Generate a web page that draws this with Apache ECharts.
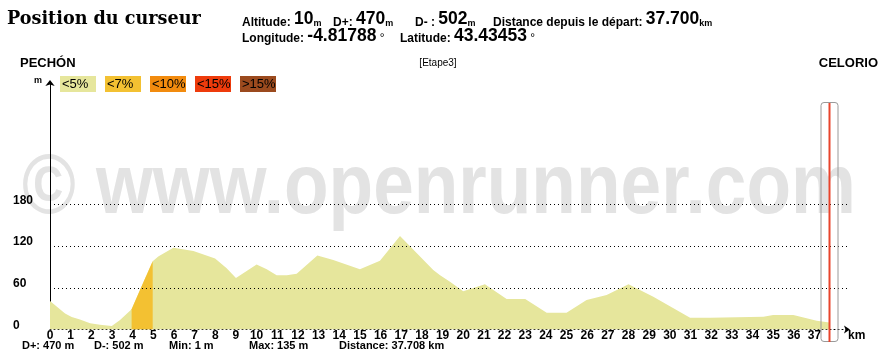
<!DOCTYPE html>
<html><head><meta charset="utf-8">
<script src="https://cdn.jsdelivr.net/npm/echarts@6/dist/echarts.min.js"></script>
<style>html,body{margin:0;padding:0;background:#fff}#c{width:890px;height:361px}</style>
</head><body><div id="c"></div>
<script>
// ---------- data ----------
const profileKm  = [0, 0.73, 1.05, 1.45, 1.94, 2.42, 2.99, 3.39, 3.95, 4.36, 4.97, 5.24, 5.97, 6.94, 7.99, 8.55, 9.0, 10.0, 10.49, 10.97, 11.46, 11.94, 12.94, 13.71, 15.0, 15.97, 16.94, 18.55, 18.88, 19.36, 20.0, 21.05, 22.1, 23.0, 24.04, 25.0, 25.97, 26.94, 28.0, 29.2, 30.98, 31.95, 32.03, 34.53, 35.0, 35.98, 37.11, 37.72];
const profileAlt = [41, 23, 18, 14.5, 9, 7, 5, 13.5, 29, 57, 98, 105, 117.5, 113, 102, 88, 74, 93.5, 86.5, 78, 78, 80, 106.5, 100, 86.5, 99, 134.5, 85.5, 78, 68.6, 55, 65, 43.7, 43.7, 24, 24, 42.3, 49.5, 65, 47, 17, 17, 18.5, 18.5, 20.7, 20.7, 12.5, 10];
const steepSegmentKm = [3.95, 4.97];          // segment shaded as "<7%"
const xTickLabels = Array.from({length: 38}, (_, i) => i); // 0..37
const yTickLabels = [0, 60, 120, 180];
const slopeLabels = ['<5%', '<7%', '<10%', '<15%', '>15%'];
const slopeColors = ['#e6e69c', '#f3c132', '#f28b0e', '#ee3b0c', '#9b4a1e'];
const startName = 'PECHÓN';
const endName = 'CELORIO';
const stageName = '[Etape3]';
const cursorKm = 37.7;
const headerLine1 = [['Altitude:', '10', 'm'], ['D+:', '470', 'm'], ['D- :', '502', 'm'], ['Distance depuis le départ:', '37.700', 'km']];
const headerLine2 = [['Longitude:', '-4.81788', '°'], ['Latitude:', '43.43453', '°']];
const footerStats = ['D+: 470 m', 'D-: 502 m', 'Min: 1 m', 'Max: 135 m', 'Distance: 37.708 km'];
const titleText = 'Position du curseur';
const watermarkText = '© www.openrunner.com';

// ---------- build ----------
const SANS = '"Liberation Sans", Arial, sans-serif';
const profile = profileKm.map((k, i) => [k, profileAlt[i]]);
const steep = profile.filter(p => p[0] >= steepSegmentKm[0] && p[0] <= steepSegmentKm[1]);

const header1X = [242, 333, 415, 493];
const header2X = [242, 400];
const footerX = [22, 94, 169, 249, 339];
const legendX = [60, 105, 150, 195, 240];

function headerItem(g, x, y) {
  const deg = g[2] === '°';
  return {
    type: 'text', x: x, y: y, z: 10,
    style: {
      text: '{l|' + g[0] + '} {v|' + g[1] + '}' + (deg ? ' {d|' + g[2] + '}' : '{u|' + g[2] + '}'),
      font: 'bold 12px ' + SANS, fill: '#000', verticalAlign: 'bottom',
      rich: {
        l: {font: 'bold 12px ' + SANS, fill: '#000', verticalAlign: 'bottom'},
        v: {font: 'bold 17.5px ' + SANS, fill: '#000', verticalAlign: 'bottom'},
        u: {font: 'bold 9px ' + SANS, fill: '#000', verticalAlign: 'bottom'},
        d: {font: '12px ' + SANS, fill: '#000', verticalAlign: 'bottom', lineHeight: 6}
      }
    }
  };
}

const graphics = [];
graphics.push({type: 'text', x: 22, y: 189, scaleY: 1.17, z: -10, silent: true,
  style: {text: watermarkText, font: 'bold 73px ' + SANS, fill: '#e3e3e3', verticalAlign: 'middle'}});
graphics.push({type: 'text', x: 7, y: 28, z: 10,
  style: {text: titleText, font: 'bold 17.6px "DejaVu Serif", serif', fill: '#000', verticalAlign: 'bottom'}});
headerLine1.forEach((g, i) => graphics.push(headerItem(g, header1X[i], 28.5)));
headerLine2.forEach((g, i) => graphics.push(headerItem(g, header2X[i], 45)));
graphics.push({type: 'text', x: 20, y: 63.5, z: 10, style: {text: startName, font: 'bold 13px ' + SANS, fill: '#000', verticalAlign: 'middle'}});
graphics.push({type: 'text', x: 878, y: 63.5, z: 10, style: {text: endName, font: 'bold 13px ' + SANS, fill: '#000', align: 'right', verticalAlign: 'middle'}});
graphics.push({type: 'text', x: 438, y: 63.5, z: 10, style: {text: stageName, font: '10px ' + SANS, fill: '#000', align: 'center', verticalAlign: 'middle'}});
slopeLabels.forEach((lab, i) => {
  graphics.push({type: 'rect', shape: {x: legendX[i], y: 76, width: 36, height: 16}, z: 10, style: {fill: slopeColors[i]}});
  graphics.push({type: 'text', x: legendX[i] + 2, y: 84.5, z: 11, style: {text: lab, font: '13px ' + SANS, fill: '#000', verticalAlign: 'middle'}});
});
footerStats.forEach((s, i) => graphics.push({type: 'text', x: footerX[i], y: 345.5, z: 10,
  style: {text: s, font: 'bold 11px ' + SANS, fill: '#000', verticalAlign: 'middle'}}));

const chart = echarts.init(document.getElementById('c'), null, {renderer: 'canvas'});
const option = {
  animation: false,
  backgroundColor: '#fff',
  grid: {left: 50, right: 40, top: 84, bottom: 31.5, containLabel: false},
  xAxis: {
    type: 'value', min: 0, max: 38.72, interval: 1,
    name: 'km', nameLocation: 'end', nameGap: -2,
    nameTextStyle: {color: '#000', fontFamily: SANS, fontWeight: 'bold', fontSize: 12, verticalAlign: 'top', align: 'left'},
    axisLine: {show: true, lineStyle: {color: '#000', width: 1, type: [1, 3]}, symbol: ['none', 'arrow'], symbolSize: [6, 6]},
    axisTick: {show: false},
    splitLine: {show: false},
    axisLabel: {
      margin: 0, color: '#000', fontFamily: SANS, fontWeight: 'bold', fontSize: 12,
      showMaxLabel: false,
      formatter: v => xTickLabels.includes(v) ? String(v) : ''
    }
  },
  yAxis: {
    type: 'value', min: 0, max: 353, interval: 60,
    name: 'm', nameLocation: 'end', nameGap: -1,
    nameTextStyle: {color: '#000', fontFamily: SANS, fontWeight: 'bold', fontSize: 9, align: 'right', verticalAlign: 'bottom', padding: [0, 8, 0, 0]},
    axisLine: {show: true, lineStyle: {color: '#000', width: 1}, symbol: ['none', 'arrow'], symbolSize: [7, 6], symbolOffset: [0, 4]},
    axisTick: {show: false},
    splitLine: {show: false},
    axisLabel: {
      margin: 37, align: 'left', color: '#000', fontFamily: SANS, fontWeight: 'bold', fontSize: 12,
      verticalAlign: 'bottom', lineHeight: 8, showMaxLabel: false,
      formatter: v => yTickLabels.includes(v) ? String(v) : ''
    }
  },
  series: [
    {
      type: 'line', data: [], z: 1, silent: true,
      markLine: {
        silent: true, symbol: ['none', 'none'], label: {show: false},
        lineStyle: {color: '#000', width: 1, type: [1, 3]},
        data: yTickLabels.filter(v => v > 0).map(v => ({yAxis: v}))
      }
    },
    {
      type: 'line', data: profile, z: 3, silent: true, showSymbol: false, smooth: false,
      lineStyle: {width: 0}, areaStyle: {color: slopeColors[0], opacity: 1}
    },
    {
      type: 'line', data: steep, z: 4, silent: true, showSymbol: false, smooth: false,
      lineStyle: {width: 0}, areaStyle: {color: slopeColors[1], opacity: 1}
    }
  ],
  graphic: {elements: graphics}
};
chart.setOption(option);

const cx = Math.round(chart.convertToPixel({xAxisIndex: 0}, cursorKm)) + 0.5;
const cursorGraphics = [
  {type: 'rect', z: 20, shape: {x: cx - 8.5, y: 102.5, width: 17, height: 239, r: 3}, style: {fill: 'none', stroke: '#9a9a9a', lineWidth: 1}},
  {type: 'line', z: 21, shape: {x1: cx, y1: 103, x2: cx, y2: 342}, style: {stroke: '#e8442c', lineWidth: 2}}
];
chart.setOption({graphic: {elements: graphics.concat(cursorGraphics)}});
</script>
</body></html>
